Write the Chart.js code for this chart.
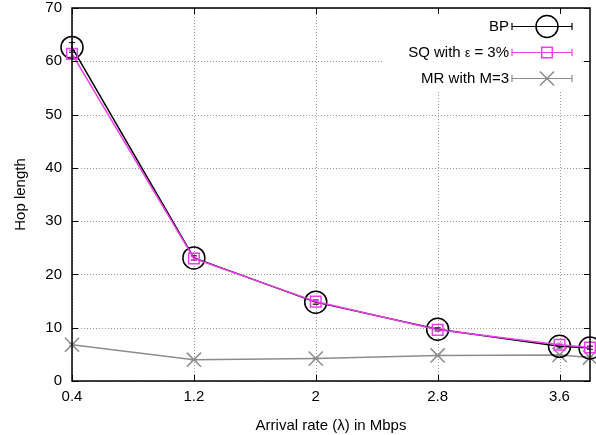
<!DOCTYPE html>
<html>
<head>
<meta charset="utf-8">
<script src="https://cdn.jsdelivr.net/npm/chart.js@4.4.0/dist/chart.umd.min.js"></script>
<style>
html,body{margin:0;padding:0;background:#fff;}
#wrap{width:596px;height:435px;}
</style>
</head>
<body>
<div id="wrap"><canvas id="c" width="596" height="435"></canvas></div>
<script>
const xValues = [0.4, 1.2, 2, 2.8, 3.6, 3.8];
const bpValues = [62.6, 23.1, 14.8, 9.7, 6.5, 6.2];
const bpErr = [0.9, 0.4, 0.4, 0.3, 0.3, 0.3];
const sqValues = [61.4, 23.0, 14.9, 9.6, 6.8, 6.3];
const sqErr = [0.6, 0.3, 0.3, 0.3, 0.3, 0.3];
const mrValues = [6.8, 4.0, 4.2, 4.8, 4.9, 4.4];
const mrErr = [0.2, 0.1, 0.1, 0.1, 0.1, 0.1];
const xTickLabels = [0.4, 1.2, 2, 2.8, 3.6];
const yTickLabels = [0, 10, 20, 30, 40, 50, 60, 70];
const seriesNames = ['BP', 'SQ with \u03b5 = 3%', 'MR with M=3'];

const FONT = '"Liberation Sans", Arial, Helvetica, sans-serif';
const FS = 15;
const colors = ['#000000', '#f03cf0', '#8c8c8c'];
const pts = (ys) => xValues.map((x, i) => ({x: x, y: ys[i]}));

const errs = [bpErr, sqErr, mrErr];

function drawLegendText(ctx, text, right, y) {
  const idx = text.indexOf('\u03b5');
  if (idx < 0) { ctx.font = FS + 'px ' + FONT; ctx.textAlign = 'right'; ctx.fillText(text, right, y); return; }
  const parts = [[text.slice(0, idx), FS], ['\u03b5', 12], [text.slice(idx + 1), FS]];
  let widths = parts.map(p => { ctx.font = p[1] + 'px ' + FONT; return ctx.measureText(p[0]).width; });
  let x = right - widths.reduce((s, w) => s + w, 0);
  ctx.textAlign = 'left';
  parts.forEach((p, i) => { ctx.font = p[1] + 'px ' + FONT; ctx.fillText(p[0], x, y + (p[1] < FS ? 1 : 0)); x += widths[i]; });
}

const framePlugin = {
  id: 'frame',
  beforeDatasetsDraw(chart) {
    const {ctx, chartArea: a, scales: {x, y}} = chart;
    ctx.save();
    ctx.strokeStyle = '#9a9a9a';
    ctx.lineWidth = 1;
    ctx.setLineDash([1, 2]);
    xTickLabels.forEach(v => {
      const px = Math.round(x.getPixelForValue(v)) + 0.5;
      ctx.beginPath(); ctx.moveTo(px, a.top); ctx.lineTo(px, a.bottom); ctx.stroke();
    });
    yTickLabels.forEach(v => {
      const py = Math.round(y.getPixelForValue(v)) + 0.5;
      ctx.beginPath(); ctx.moveTo(a.left, py); ctx.lineTo(a.right, py); ctx.stroke();
    });
    ctx.restore();
    ctx.save();
    ctx.fillStyle = '#ffffff';
    ctx.fillRect(382, a.top + 1, 198, 82);
    ctx.restore();
    ctx.save();
    chart.data.datasets.forEach((ds, di) => {
      ctx.strokeStyle = colors[di];
      ctx.lineWidth = 1;
      ds.data.forEach((p, i) => {
        const px = x.getPixelForValue(p.x);
        const y1 = y.getPixelForValue(p.y + errs[di][i]);
        const y2 = y.getPixelForValue(p.y - errs[di][i]);
        ctx.beginPath();
        ctx.moveTo(px, y1); ctx.lineTo(px, y2);
        ctx.moveTo(px - 3, y1); ctx.lineTo(px + 3, y1);
        ctx.moveTo(px - 3, y2); ctx.lineTo(px + 3, y2);
        ctx.stroke();
      });
    });
    ctx.restore();
  },
  afterDraw(chart) {
    const {ctx, chartArea: a, scales: {x, y}} = chart;
    ctx.save();
    ctx.strokeStyle = '#000';
    ctx.lineWidth = 1.5;
    ctx.strokeRect(a.left, a.top, a.right - a.left, a.bottom - a.top);
    ctx.lineWidth = 1;
    xTickLabels.forEach(v => {
      const px = Math.round(x.getPixelForValue(v)) + 0.5;
      ctx.beginPath();
      ctx.moveTo(px, a.bottom); ctx.lineTo(px, a.bottom - 6);
      ctx.moveTo(px, a.top); ctx.lineTo(px, a.top + 6);
      ctx.stroke();
    });
    yTickLabels.forEach(v => {
      const py = Math.round(y.getPixelForValue(v)) + 0.5;
      ctx.beginPath();
      ctx.moveTo(a.left, py); ctx.lineTo(a.left + 6, py);
      ctx.moveTo(a.right, py); ctx.lineTo(a.right - 6, py);
      ctx.stroke();
    });
    const rows = [26, 52, 78];
    ctx.textBaseline = 'middle';
    chart.data.datasets.forEach((ds, di) => {
      const ry = rows[di] + 0.5;
      ctx.fillStyle = '#000';
      drawLegendText(ctx, seriesNames[di], 509, ry);
      ctx.strokeStyle = colors[di];
      ctx.lineWidth = 1.2;
      ctx.beginPath();
      ctx.moveTo(512, ry); ctx.lineTo(572, ry);
      ctx.moveTo(512, ry - 3.5); ctx.lineTo(512, ry + 3.5);
      ctx.moveTo(572, ry - 3.5); ctx.lineTo(572, ry + 3.5);
      ctx.stroke();
      ctx.lineWidth = 1.5;
      ctx.fillStyle = 'rgba(0,0,0,0)';
      Chart.helpers.drawPoint(ctx, {
        pointStyle: ds.pointStyle, radius: ds.pointRadius, borderWidth: 1.5, rotation: 0
      }, 547, ry);
    });
    ctx.restore();
  }
};

function noPad(s) { s.paddingLeft = 0; s.paddingRight = 0; s.paddingTop = 0; s.paddingBottom = 0; }

new Chart(document.getElementById('c'), {
  type: 'line',
  data: {
    datasets: [
      {label: seriesNames[0], data: pts(bpValues), borderColor: colors[0], backgroundColor: 'rgba(0,0,0,0)',
       borderWidth: 1.5, pointStyle: 'circle', pointRadius: 11, pointBorderWidth: 1.5, order: 2, clip: false},
      {label: seriesNames[1], data: pts(sqValues), borderColor: colors[1], backgroundColor: 'rgba(0,0,0,0)',
       borderWidth: 1.5, pointStyle: 'rect', pointRadius: 7.5, pointBorderWidth: 1.5, order: 1, clip: false},
      {label: seriesNames[2], data: pts(mrValues), borderColor: colors[2], backgroundColor: 'rgba(0,0,0,0)',
       borderWidth: 1.5, pointStyle: 'crossRot', pointRadius: 10, pointBorderWidth: 1.5, order: 3, clip: false}
    ]
  },
  options: {
    responsive: false,
    animation: false,
    devicePixelRatio: 1,
    layout: {autoPadding: false, padding: {top: 8, right: 6, left: 0, bottom: 0}},
    plugins: {legend: {display: false}, tooltip: {enabled: false}},
    elements: {line: {tension: 0}},
    scales: {
      x: {
        type: 'linear', min: 0.4, max: 3.8,
        afterBuildTicks: (s) => { s.ticks = xTickLabels.map(v => ({value: v})); },
        afterFit: (s) => { s.height = 54; noPad(s); },
        grid: {display: false, drawTicks: false},
        border: {display: false},
        ticks: {padding: 7, color: '#000', font: {family: FONT, size: FS}, autoSkip: false, maxRotation: 0,
                callback: (v) => String(v)},
        title: {display: true, text: 'Arrival rate (\u03bb) in Mbps', color: '#000',
                font: {family: FONT, size: FS}, padding: {top: 0, bottom: 0}}
      },
      y: {
        type: 'linear', min: 0, max: 70,
        afterBuildTicks: (s) => { s.ticks = yTickLabels.map(v => ({value: v})); },
        afterFit: (s) => { s.width = 72; noPad(s); },
        grid: {display: false, drawTicks: false},
        border: {display: false},
        ticks: {padding: 10, color: '#000', font: {family: FONT, size: FS}},
        title: {display: true, text: 'Hop length', color: '#000',
                font: {family: FONT, size: FS}, padding: {top: 12, bottom: 0}}
      }
    }
  },
  plugins: [framePlugin]
});
</script>
</body>
</html>
